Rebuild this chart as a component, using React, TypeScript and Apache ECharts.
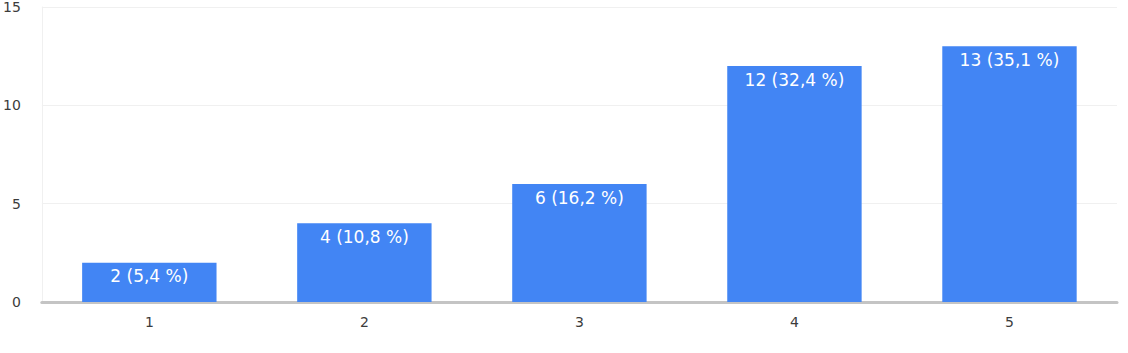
import React, { useEffect, useRef } from "react";
import * as echarts from "echarts";

const categories = ["1", "2", "3", "4", "5"];
const counts = [2, 4, 6, 12, 13];
const percentLabels = ["5,4 %", "10,8 %", "16,2 %", "32,4 %", "35,1 %"];
const yTicks = { min: 0, max: 15, interval: 5 };

export default function App() {
  const ref = useRef<HTMLDivElement>(null);
  useEffect(() => {
    if (!ref.current) return;
    const chart = echarts.init(ref.current, undefined, { renderer: "svg" });
    chart.setOption({
      animation: false,
      grid: { left: 37, right: 11, top: 7, bottom: 51 },
      xAxis: {
        type: "category",
        data: categories,
        axisTick: { show: false },
        axisLine: { lineStyle: { color: "#c4c4c4", width: 3 } },
        axisLabel: {
          margin: 13,
          fontSize: 14,
          color: "#3c3c3c",
          fontFamily: "DejaVu Sans",
        },
      },
      yAxis: {
        type: "value",
        min: yTicks.min,
        max: yTicks.max,
        interval: yTicks.interval,
        axisLine: { show: true, lineStyle: { color: "#f0f0f0", width: 1 } },
        axisTick: { show: false },
        splitLine: { lineStyle: { color: "#f0f0f0", width: 1 } },
        axisLabel: {
          margin: 21,
          fontSize: 14,
          color: "#3c3c3c",
          fontFamily: "DejaVu Sans",
        },
      },
      series: [
        {
          type: "bar",
          data: counts,
          barWidth: "62.5%",
          itemStyle: { color: "#4285f4" },
          label: {
            show: true,
            position: "insideTop",
            distance: 5,
            color: "#fff",
            fontSize: 17,
            fontFamily: "DejaVu Sans",
            formatter: (p: any) => `${p.value} (${percentLabels[p.dataIndex]})`,
          },
        },
      ],
    });
    return () => chart.dispose();
  }, []);
  return (
    <div
      ref={ref}
      style={{ position: "fixed", left: 0, top: 0, width: 1128, height: 353, background: "#fff" }}
    />
  );
}
